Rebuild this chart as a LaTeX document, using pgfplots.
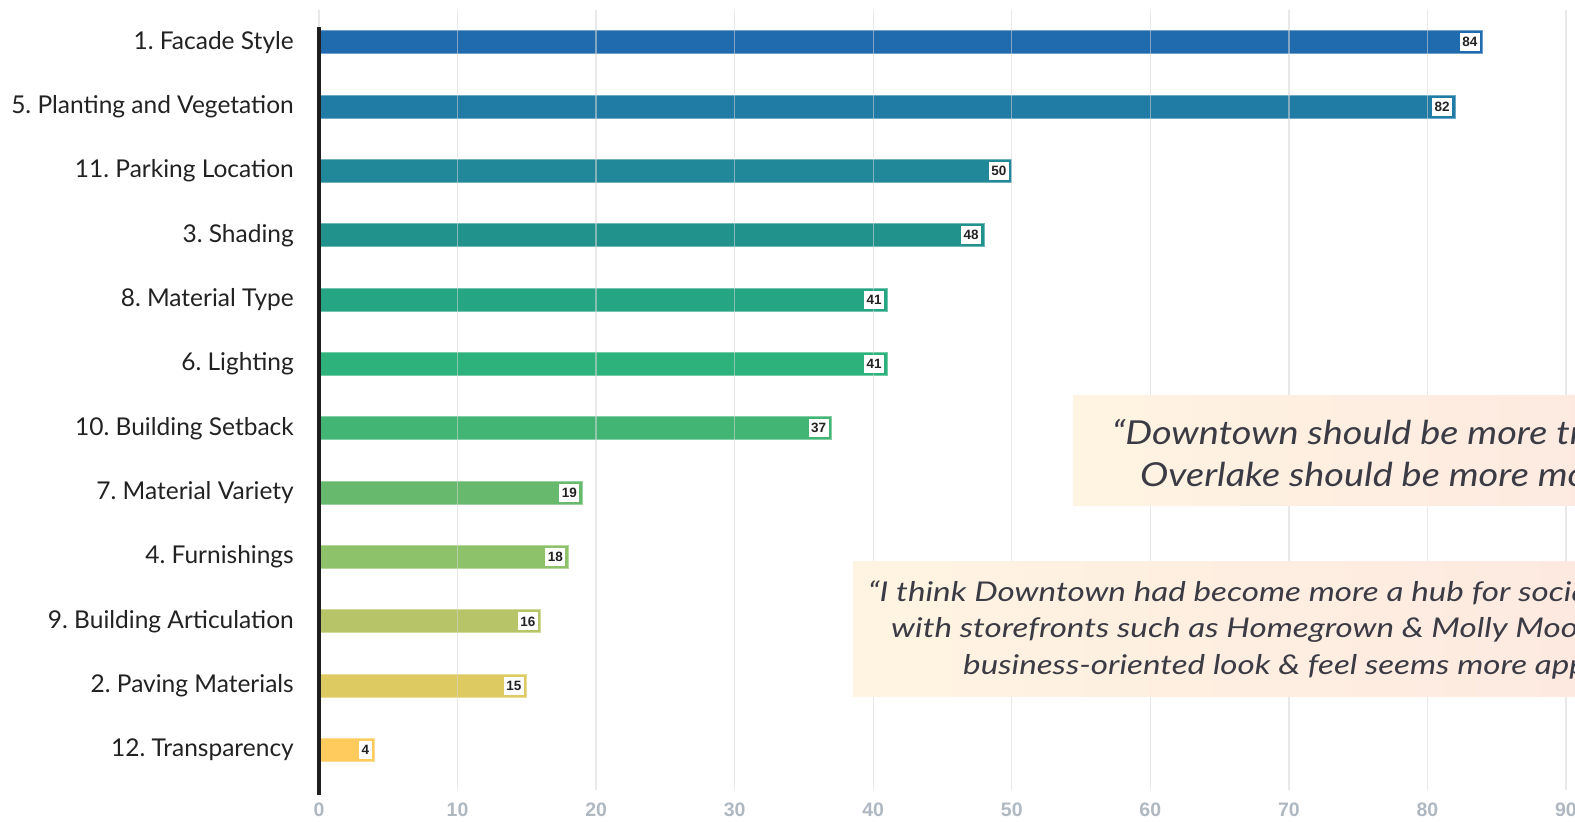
\documentclass[border=0pt]{standalone}
\usepackage{pgfplots}
\pgfplotsset{compat=1.18}
\usepackage{fontspec}
\setmainfont{Lato}
\newfontfamily\numfont{Liberation Sans}
\newfontfamily\quotefont{Lato}[FakeStretch=1.22]
\newfontfamily\quotefontA{Lato}[FakeStretch=1.15]
\frenchspacing
\definecolor{c1}{HTML}{1F6BAE}
\definecolor{c2}{HTML}{207BA5}
\definecolor{c3}{HTML}{21889A}
\definecolor{c4}{HTML}{22928D}
\definecolor{c5}{HTML}{25A584}
\definecolor{c6}{HTML}{2DB27C}
\definecolor{c7}{HTML}{42B574}
\definecolor{c8}{HTML}{67BA6D}
\definecolor{c9}{HTML}{8EC26A}
\definecolor{c10}{HTML}{B8C468}
\definecolor{c11}{HTML}{DDCB62}
\definecolor{c12}{HTML}{FECB5C}
\definecolor{tickgray}{HTML}{AFB8C1}
\definecolor{labcol}{HTML}{222222}
\definecolor{quotecol}{HTML}{3B3B45}
\definecolor{boxL}{HTML}{FFF4E2}
\definecolor{boxR}{HTML}{FDE8E0}
\begin{document}
\begin{tikzpicture}
\begin{axis}[
  at={(319pt,32pt)}, anchor=south west,
  scale only axis, width=1247pt, height=780pt,
  xmin=0, xmax=90, ymin=-0.62, ymax=11.5,
  xbar, bar width=23pt, bar shift=0pt,
  axis line style={draw=none},
  major tick length=0pt,
  xtick={0,10,...,90},
  ytick={0,...,11},
  yticklabels={12. Transparency, 2. Paving Materials, 9. Building Articulation, 4. Furnishings, 7. Material Variety, 10. Building Setback, 6. Lighting, 8. Material Type, 3. Shading, 11. Parking Location, 5. Planting and Vegetation, 1. Facade Style},
  xmajorgrids,
  grid style={draw=black!16, opacity=0.55, line width=1.4pt},
  axis on top,
  /pgf/number format/assume math mode=true,
  xticklabel style={font=\numfont\bfseries\fontsize{19.5}{19.5}\selectfont, text=tickgray, inner sep=0pt, yshift=-13pt},
  yticklabel style={font=\fontsize{24.5}{24.5}\selectfont, text=labcol, inner sep=0pt, xshift=-25pt},
  point meta=x,
  nodes near coords,
  nodes near coords align={anchor=east},
  every node near coord/.append style={fill=white, inner xsep=2.5pt, inner ysep=0pt, minimum height=18pt, xshift=-2.5pt, font=\numfont\bfseries\fontsize{13.5}{13.5}\selectfont, text=labcol},
]
\addplot[fill=c1, draw=c1!65!white, line width=0.8pt] coordinates {(84,11)};
\addplot[fill=c2, draw=c2!65!white, line width=0.8pt] coordinates {(82,10)};
\addplot[fill=c3, draw=c3!65!white, line width=0.8pt] coordinates {(50,9)};
\addplot[fill=c4, draw=c4!65!white, line width=0.8pt] coordinates {(48,8)};
\addplot[fill=c5, draw=c5!65!white, line width=0.8pt] coordinates {(41,7)};
\addplot[fill=c6, draw=c6!65!white, line width=0.8pt] coordinates {(41,6)};
\addplot[fill=c7, draw=c7!65!white, line width=0.8pt] coordinates {(37,5)};
\addplot[fill=c8, draw=c8!65!white, line width=0.8pt] coordinates {(19,4)};
\addplot[fill=c9, draw=c9!65!white, line width=0.8pt] coordinates {(18,3)};
\addplot[fill=c10, draw=c10!65!white, line width=0.8pt] coordinates {(16,2)};
\addplot[fill=c11, draw=c11!65!white, line width=0.8pt] coordinates {(15,1)};
\addplot[fill=c12, draw=c12!65!white, line width=0.8pt] coordinates {(4,0)};
\end{axis}
% vertical axis line
\draw[line width=4pt, color=black!88] (319pt,27pt) -- (319pt,795pt);
% quote boxes
\shade[left color=boxL, right color=boxR] (1073pt,316pt) rectangle (1640pt,426pt);
\shade[left color=boxL, right color=boxR] (853pt,125pt) rectangle (1640pt,260pt);
\node[anchor=base west, inner sep=0pt, text=quotecol, font=\quotefontA\itshape\fontsize{33}{33}\selectfont] at (1112pt,377pt) {“Downtown should be more traditional,};
\node[anchor=base west, inner sep=0pt, text=quotecol, font=\quotefontA\itshape\fontsize{33}{33}\selectfont] at (1140pt,335pt) {Overlake should be more modern.”};
\node[anchor=base west, inner sep=0pt, text=quotecol, font=\quotefont\itshape\fontsize{27.2}{27.2}\selectfont] at (868pt,220pt) {“I think Downtown had become more a hub for social life};
\node[anchor=base west, inner sep=0pt, text=quotecol, font=\quotefont\itshape\fontsize{27.2}{27.2}\selectfont] at (891pt,184pt) {with storefronts such as Homegrown \& Molly Moon's};
\node[anchor=base west, inner sep=0pt, text=quotecol, font=\quotefont\itshape\fontsize{27.2}{27.2}\selectfont] at (963pt,147pt) {business-oriented look \& feel seems more appropriate};
\pgfresetboundingbox
\path[use as bounding box] (0pt,0pt) rectangle (1575pt,822pt);
\end{tikzpicture}
\end{document}
